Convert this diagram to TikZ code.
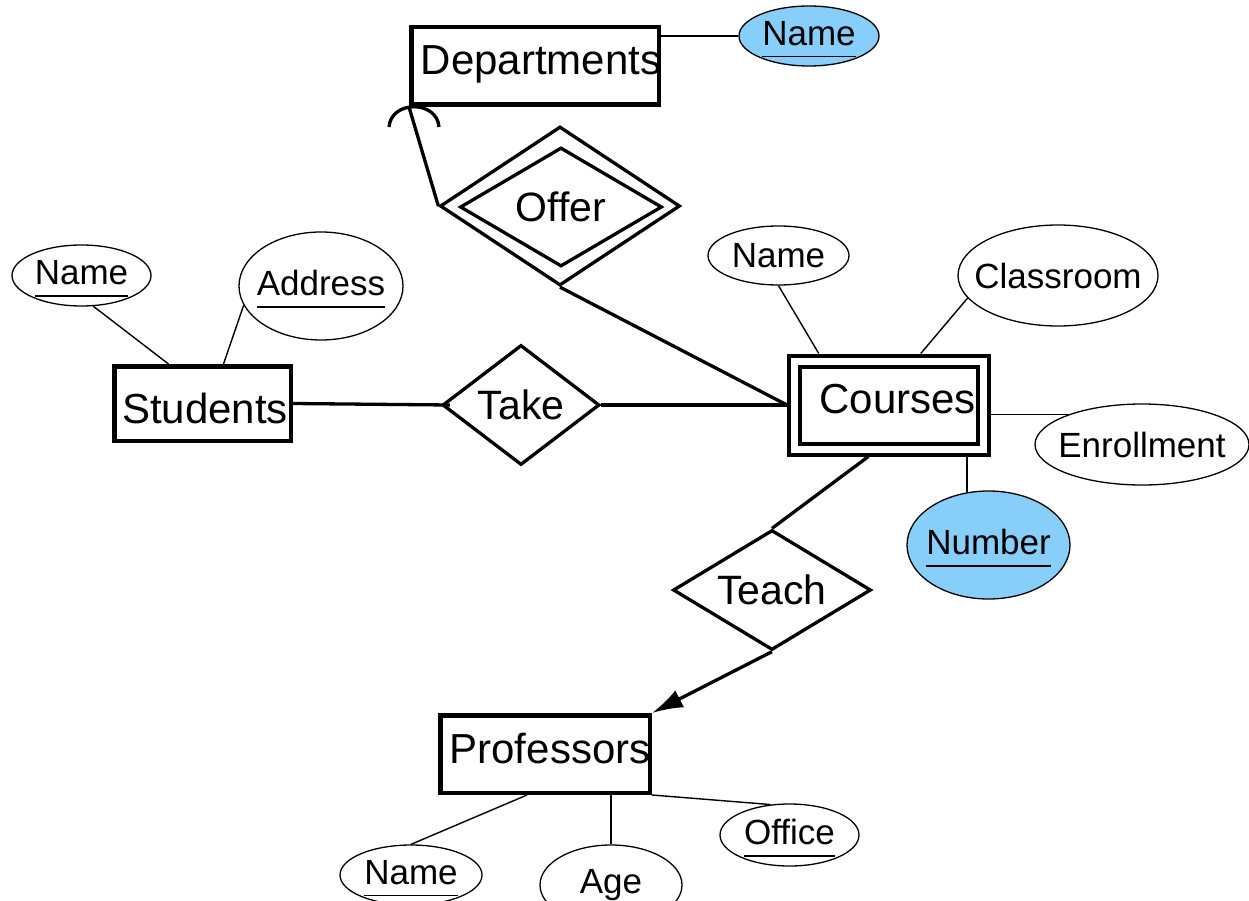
\documentclass[tikz,border=0pt]{standalone}
\usepackage{fontspec}
\setmainfont{Liberation Sans}
\usetikzlibrary{shapes.geometric,arrows.meta,calc}
\definecolor{keyblue}{RGB}{135,206,250}
\newcommand{\enttxt}[2]{\makebox[0pt]{\hspace*{#1}#2}}
\newcommand{\attrtxt}[1]{\makebox[0pt]{#1}}
\newcommand{\keytxt}[1]{\makebox[0pt]{\setbox0\hbox{#1}\rlap{\raisebox{-12pt}[0pt][0pt]{\rule{\wd0}{1.3pt}}}\box0}}
\begin{document}
\begin{tikzpicture}[x=1pt,y=-1pt,
	entity/.style={draw,rectangle,line width=4.5pt,inner sep=0pt,font=\fontsize{42}{46}\selectfont},
	rel/.style={draw,diamond,aspect=2,line width=3.3pt,inner sep=0pt,font=\fontsize{41}{45}\selectfont},
	attr/.style={draw,ellipse,line width=1.3pt,inner sep=0pt,font=\fontsize{35}{38}\selectfont},
	keyattr/.style={attr,text depth=6pt},
	link/.style={line width=3.3pt},
	attrlink/.style={line width=1.4pt}]
	\useasboundingbox (0,0) rectangle (1249,901);
	\node[entity,minimum width=247.5pt,minimum height=77.5pt,text depth=11pt] (dept) at (535,66) {\enttxt{12pt}{Departments}};
	\node[entity,minimum width=176.5pt,minimum height=74.5pt,text height=41pt] (stud) at (202.5,403.5) {\enttxt{5pt}{Students}};
	\node[entity,double,double distance=7pt,line width=4pt,outer sep=7.5pt,minimum width=188.5pt,minimum height=88pt,text depth=12pt] (courses) at (888.75,405) {\enttxt{18pt}{Courses}};
	\node[entity,minimum width=209.5pt,minimum height=77.5pt,text depth=12pt] (prof) at (545,754) {\enttxt{10pt}{Professors}};
	\node[rel,minimum width=240pt,minimum height=159pt] (offer) at (560,206) {};
	\node[rel,minimum width=202pt,minimum height=119pt] (offerin) at (561,207) {Offer};
	\node[rel,minimum width=157pt,minimum height=120pt] (take) at (521,405) {Take};
	\node[rel,minimum width=198pt,minimum height=120pt] (teach) at (772,590) {Teach};
	\node[keyattr,fill=keyblue,minimum width=140pt,minimum height=60pt] (dname) at (809,36) {\keytxt{Name}};
	\node[keyattr,minimum width=139pt,minimum height=61pt] (sname) at (81.5,275.5) {\keytxt{Name}};
	\node[keyattr,minimum width=164pt,minimum height=108pt] (saddr) at (321,286) {\keytxt{Address}};
	\node[attr,minimum width=141pt,minimum height=59pt] (cname) at (778.5,255.5) {\attrtxt{Name}};
	\node[attr,minimum width=200pt,minimum height=101pt] (croom) at (1058,275.5) {\attrtxt{Classroom}};
	\node[attr,minimum width=214pt,minimum height=81pt] (cenrol) at (1142,444.5) {\attrtxt{Enrollment}};
	\node[keyattr,fill=keyblue,minimum width=163pt,minimum height=108pt] (cnum) at (988.5,545) {\keytxt{Number}};
	\node[keyattr,minimum width=142pt,minimum height=60pt] (pname) at (411,875) {\keytxt{Name}};
	\node[attr,minimum width=142pt,minimum height=80pt] (page) at (611,885) {\attrtxt{Age}};
	\node[keyattr,minimum width=139pt,minimum height=62pt] (poffice) at (789.5,835) {\keytxt{Office}};
	\draw[attrlink] (dname.west) -- (dname.west -| dept.east);
	\draw[link] (offer.west) -- (dept.south west);
	\draw[link,shift={(dept.south west)}] (-20,20) .. controls (-18,-7) and (28,-7) .. (30,20);
	\draw[link] (offer.south) -- (courses.west);
	\draw[link] (stud.east) -- ([xshift=9pt]take.west);
	\draw[link] (take.east) -- (courses.west);
	\draw[link] ($(courses.south west)!0.4!(courses.south east)$) -- (teach.north);
	\draw[link,-{Latex[length=31pt,width=19pt]}] (teach.south) -- (prof.north east);
	\draw[attrlink] (sname.-69) -- ($(stud.north)+(-34,0)$);
	\draw[attrlink] (saddr.194) -- ($(stud.north)+(21,0)$);
	\draw[attrlink] (cname.south) -- ($(courses.north)+(-70,0)$);
	\draw[attrlink] (croom.194) -- ($(courses.north)+(32,0)$);
	\draw[attrlink] (cenrol.158) -- (cenrol.158 -| courses.east);
	\draw[attrlink] (cnum.112) -- (cnum.112 |- courses.south);
	\draw[attrlink] (pname.north) -- ($(prof.south)+(-18,0)$);
	\draw[attrlink] (page.north) -- (page.north |- prof.south);
	\draw[attrlink] (poffice.122) -- (prof.south east);
\end{tikzpicture}
\end{document}
